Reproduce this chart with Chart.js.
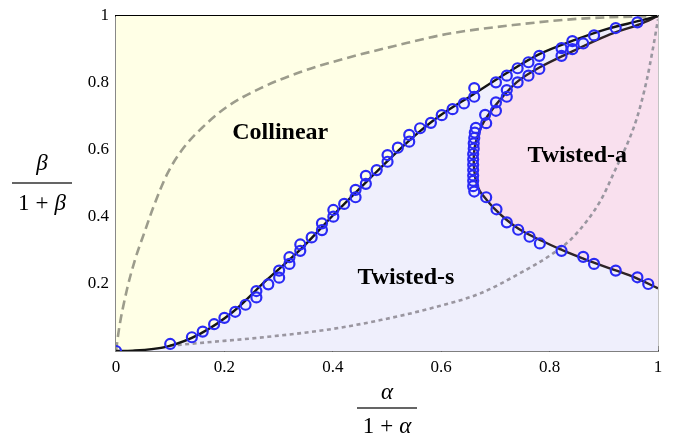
<!DOCTYPE html>
<html><head><meta charset="utf-8">
<script src="https://cdn.jsdelivr.net/npm/chart.js@4.4.1/dist/chart.umd.min.js"></script>
<style>html,body{margin:0;padding:0;background:#fff}#wrap{width:674px;height:441px}</style>
</head><body><div id="wrap"><canvas id="c" width="674" height="441"></canvas></div>
<script>
// Collinear / Twisted-s boundary (solid black)
const boundaryCS_x = [0, 0.031, 0.094, 0.155, 0.216, 0.278, 0.339, 0.401, 0.462, 0.52, 0.56, 0.598, 0.659, 0.721, 0.782, 0.844, 0.905, 0.967, 1];
const boundaryCS_y = [0, 0.001, 0.013, 0.051, 0.117, 0.212, 0.301, 0.406, 0.505, 0.597, 0.655, 0.703, 0.766, 0.83, 0.887, 0.927, 0.961, 0.986, 1];
// Twisted-a boundary (solid dark), upper branch -> nose -> lower branch
const boundaryTA_x = [1.0, 0.967, 0.905, 0.844, 0.782, 0.739, 0.702, 0.685, 0.674, 0.667, 0.662, 0.660, 0.661, 0.664, 0.671, 0.684, 0.700, 0.721, 0.742, 0.770, 0.800, 0.831, 0.862, 0.893, 0.925, 0.954, 1.0];
const boundaryTA_y = [1.0, 0.976, 0.941, 0.896, 0.847, 0.802, 0.737, 0.700, 0.670, 0.640, 0.610, 0.575, 0.540, 0.508, 0.478, 0.451, 0.422, 0.391, 0.366, 0.341, 0.318, 0.296, 0.276, 0.257, 0.239, 0.222, 0.187];
// simulation points (blue circles) along Collinear/Twisted-s boundary
const pointsCS_x = [0, 0.10, 0.140, 0.160, 0.181, 0.200, 0.220, 0.239, 0.259, 0.259, 0.281, 0.301, 0.301, 0.320, 0.320, 0.340, 0.340, 0.361, 0.380, 0.380, 0.401, 0.401, 0.421, 0.442, 0.442, 0.461, 0.461, 0.481, 0.501, 0.501, 0.520, 0.541, 0.541, 0.561, 0.581, 0.601, 0.621, 0.642, 0.661, 0.661, 0.701, 0.721, 0.741, 0.761, 0.781, 0.822, 0.842, 0.882, 0.922, 0.962];
const pointsCS_y = [0, 0.021, 0.041, 0.058, 0.080, 0.099, 0.117, 0.138, 0.160, 0.179, 0.199, 0.219, 0.240, 0.260, 0.280, 0.299, 0.318, 0.339, 0.361, 0.381, 0.401, 0.421, 0.439, 0.459, 0.481, 0.499, 0.523, 0.540, 0.565, 0.585, 0.607, 0.625, 0.645, 0.665, 0.681, 0.704, 0.722, 0.739, 0.759, 0.785, 0.802, 0.822, 0.844, 0.862, 0.881, 0.904, 0.925, 0.942, 0.964, 0.981];
// simulation points along Twisted-a boundary
const pointsTA_x = [0.661, 0.659, 0.659, 0.659, 0.659, 0.659, 0.659, 0.659, 0.660, 0.660, 0.661, 0.662, 0.664, 0.683, 0.681, 0.701, 0.701, 0.721, 0.721, 0.741, 0.761, 0.781, 0.822, 0.842, 0.862, 0.683, 0.702, 0.721, 0.742, 0.763, 0.782, 0.822, 0.862, 0.882, 0.922, 0.962, 0.982];
const pointsTA_y = [0.476, 0.492, 0.508, 0.524, 0.540, 0.556, 0.572, 0.588, 0.604, 0.620, 0.636, 0.652, 0.666, 0.680, 0.705, 0.717, 0.742, 0.759, 0.779, 0.802, 0.822, 0.842, 0.881, 0.901, 0.918, 0.459, 0.423, 0.384, 0.362, 0.341, 0.321, 0.299, 0.281, 0.260, 0.240, 0.220, 0.200];
// dashed grey curve
const dashed_x = [0, 0.006, 0.02, 0.035, 0.054, 0.069, 0.095, 0.124, 0.158, 0.204, 0.266, 0.339, 0.42, 0.518, 0.610, 0.733, 0.856, 1.0];
const dashed_y = [0, 0.07, 0.182, 0.272, 0.361, 0.43, 0.53, 0.605, 0.665, 0.728, 0.784, 0.832, 0.872, 0.912, 0.946, 0.973, 0.992, 1.0];
// dotted grey curve
const dotted_x = [0.10, 0.155, 0.278, 0.40, 0.49, 0.58, 0.672, 0.745, 0.807, 0.844, 0.893, 0.918, 0.96, 0.979, 0.991, 1.0];
const dotted_y = [0.016, 0.024, 0.042, 0.066, 0.093, 0.127, 0.172, 0.232, 0.292, 0.341, 0.446, 0.530, 0.69, 0.807, 0.906, 0.99];
// ticks
const xTickValues = [0, 0.2, 0.4, 0.6, 0.8, 1];
const xTickLabels = ['0', '0.2', '0.4', '0.6', '0.8', '1'];
const yTickValues = [0.2, 0.4, 0.6, 0.8, 1];
const yTickLabels = ['0.2', '0.4', '0.6', '0.8', '1'];
// region labels
const regionNames = ['Collinear', 'Twisted-s', 'Twisted-a'];
const regionX = [0.303, 0.535, 0.851];
const regionY = [0.651, 0.22, 0.583];

const zip = (xs, ys) => xs.map((x, i) => ({x: x, y: ys[i]}));
const serif = '"Liberation Serif", "DejaVu Serif", serif';

function drawFrac(ctx, cx, cy, sym, numOff, denOff) {
  ctx.save();
  ctx.fillStyle = '#000';
  ctx.textBaseline = 'alphabetic';
  const it = 'italic 23px ' + serif, up = '23px ' + serif;
  ctx.font = it; ctx.textAlign = 'center';
  ctx.fillText(sym, cx, cy - numOff);
  ctx.font = up;
  const w1 = ctx.measureText('1').width, wp = ctx.measureText('+').width;
  ctx.font = it; const ws = ctx.measureText(sym).width;
  const gap = 6;
  const total = w1 + gap + wp + gap + ws;
  let x = cx - total / 2;
  ctx.textAlign = 'left';
  ctx.font = up; ctx.fillText('1', x, cy + denOff); x += w1 + gap;
  ctx.fillText('+', x, cy + denOff); x += wp + gap;
  ctx.font = it; ctx.fillText(sym, x, cy + denOff);
  ctx.fillRect(cx - 30, cy - 0.6, 60, 1.2);
  ctx.restore();
}

const labelsPlugin = {
  id: 'regionLabels',
  afterDatasetsDraw(chart) {
    const ctx = chart.ctx, xs = chart.scales.x, ys = chart.scales.y;
    ctx.save();
    ctx.fillStyle = '#000';
    ctx.font = 'bold 24px ' + serif;
    ctx.textAlign = 'center'; ctx.textBaseline = 'middle';
    regionNames.forEach((n, i) => ctx.fillText(n, xs.getPixelForValue(regionX[i]), ys.getPixelForValue(regionY[i])));
    ctx.restore();
  },
  afterDraw(chart) {
    const a = chart.chartArea;
    drawFrac(chart.ctx, (a.left + a.right) / 2, 408, 'α', 9, 25);
    drawFrac(chart.ctx, 42, (a.top + a.bottom) / 2 - 0.5, 'β', 13, 27);
  }
};

const fmt = (vals, labs) => v => { const i = vals.findIndex(t => Math.abs(t - v) < 1e-9); return i >= 0 ? labs[i] : ''; };

new Chart(document.getElementById('c'), {
  type: 'scatter',
  data: {
    datasets: [
      {data: zip(pointsCS_x, pointsCS_y).concat(zip(pointsTA_x, pointsTA_y)), showLine: false, pointStyle: 'circle', pointRadius: 5, pointBorderWidth: 2.2, pointBorderColor: '#2a2af5', pointBackgroundColor: 'rgba(0,0,0,0)', clip: 0},
      {data: zip(boundaryCS_x, boundaryCS_y), showLine: true, borderColor: '#141414', borderWidth: 2.4, pointRadius: 0, cubicInterpolationMode: 'monotone', fill: false},
      {data: zip(boundaryTA_x, boundaryTA_y), showLine: true, borderColor: '#2e2426', borderWidth: 2.4, pointRadius: 0, tension: 0.35, fill: 'shape', backgroundColor: '#f9e0ee'},
      {data: zip(dashed_x, dashed_y), showLine: true, borderColor: '#9c9c8c', borderWidth: 2.6, borderDash: [9, 5], pointRadius: 0, cubicInterpolationMode: 'monotone', fill: false},
      {data: zip(dotted_x, dotted_y), showLine: true, borderColor: '#9a96a0', borderWidth: 2.6, borderDash: [4, 3.5], pointRadius: 0, cubicInterpolationMode: 'monotone', fill: false},
      {data: zip(boundaryCS_x, boundaryCS_y), showLine: true, borderWidth: 0, borderColor: 'rgba(0,0,0,0)', pointRadius: 0, cubicInterpolationMode: 'monotone', fill: 'start', backgroundColor: '#efeffc'},
      {data: zip(boundaryCS_x, boundaryCS_y), showLine: true, borderWidth: 0, borderColor: 'rgba(0,0,0,0)', pointRadius: 0, cubicInterpolationMode: 'monotone', fill: 'end', backgroundColor: '#ffffe6'}
    ]
  },
  options: {
    responsive: false, animation: false, events: [],
    layout: {padding: {left: 0, right: 16, top: 16, bottom: 0}},
    plugins: {legend: {display: false}, tooltip: {enabled: false}, filler: {drawTime: 'beforeDatasetsDraw'}},
    scales: {
      x: {type: 'linear', position: 'bottom', min: 0, max: 1, z: 1,
        afterBuildTicks: s => { s.ticks = xTickValues.map(v => ({value: v})); },
        ticks: {callback: fmt(xTickValues, xTickLabels), font: {family: serif, size: 17}, color: '#000', padding: 11, maxRotation: 0, autoSkip: false},
        grid: {display: true, drawOnChartArea: false, drawTicks: true, tickLength: -5, color: '#888', lineWidth: 1},
        border: {display: true, color: '#000', width: 1.5},
        afterFit: s => { s.height = 90; s.paddingLeft = 0; s.paddingRight = 0; }},
      y: {type: 'linear', position: 'left', min: 0, max: 1, z: 1,
        afterBuildTicks: s => { s.ticks = yTickValues.map(v => ({value: v})); },
        ticks: {callback: fmt(yTickValues, yTickLabels), font: {family: serif, size: 17}, color: '#000', padding: 12, autoSkip: false},
        grid: {display: true, drawOnChartArea: false, drawTicks: true, tickLength: -5, color: '#888', lineWidth: 1},
        border: {display: true, color: '#888', width: 1.5},
        afterFit: s => { s.width = 116; s.paddingTop = 0; s.paddingBottom = 0; }},
      x2: {type: 'linear', position: 'top', min: 0, max: 1, display: true, z: 1,
        ticks: {display: false}, grid: {display: false, drawTicks: false},
        border: {display: true, color: '#000', width: 1.5},
        afterFit: s => { s.height = 0; s.paddingLeft = 0; s.paddingRight = 0; }},
      y2: {type: 'linear', position: 'right', min: 0, max: 1, display: true, z: 1,
        ticks: {display: false}, grid: {display: false, drawTicks: false},
        border: {display: true, color: '#888', width: 1.5},
        afterFit: s => { s.width = 0; s.paddingTop = 0; s.paddingBottom = 0; }}
    }
  },
  plugins: [labelsPlugin]
});
</script>
</body></html>
